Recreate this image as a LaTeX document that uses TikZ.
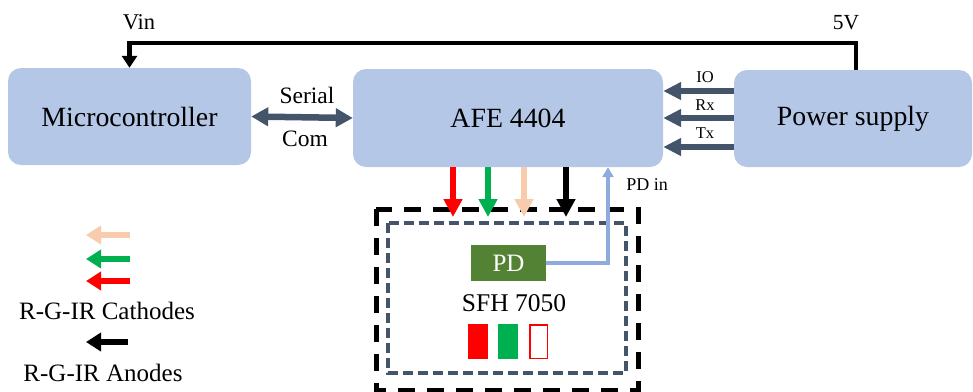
\documentclass[tikz,border=0pt]{standalone}
\usepackage{fontspec}
\setmainfont{Liberation Serif}
\usetikzlibrary{arrows.meta}
\definecolor{boxblue}{HTML}{B4C7E7}
\definecolor{slate}{HTML}{44546A}
\definecolor{peach}{HTML}{F8CBAD}
\definecolor{grn}{HTML}{00B050}
\definecolor{pdgreen}{HTML}{548235}
\definecolor{pdline}{HTML}{8FAADC}
\begin{document}
\begin{tikzpicture}[x=1pt,y=-1pt,
  block/.style={fill=boxblue, rounded corners=13pt, inner sep=0pt, font=\fontsize{27.8}{30}\selectfont},
  lbl/.style={inner sep=0pt, font=\fontsize{23.5}{26}\selectfont},
  small/.style={inner sep=0pt, font=\fontsize{16.5}{18}\selectfont},
  parrow/.style={slate, line width=6pt, -{Triangle[length=18pt,width=17pt]}},
  darrow/.style={line width=6.5pt, -{Triangle[length=18pt,width=18pt]}},
  legarrow/.style={line width=6.5pt, -{Triangle[length=15pt,width=18pt]}},
]
\useasboundingbox (0,0) rectangle (973,391);

% blocks
\node[block, minimum width=243pt, minimum height=97pt] (mc) at (129.5,116.5) {Microcontroller};
\node[block, minimum width=310pt, minimum height=98pt] (afe) at (508,118) {AFE 4404};
\node[block, minimum width=238pt, minimum height=97pt] (ps) at (853,118.5) {Power supply};

% supply line
\coordinate (vtop) at (856,43);
\draw[line width=4.5pt, -{Triangle[length=12pt,width=15pt]}]
  (ps.north -| vtop) -- (vtop) -- (vtop -| mc.north) -- (mc.north);
\node[lbl, font=\fontsize{22.5}{24}\selectfont] (vin) at (139,22) {Vin};
\node[lbl, font=\fontsize{21.5}{24}\selectfont] (fivev) at (846,23) {5V};

% serial com
\draw[slate, line width=6.5pt, {Triangle[length=17pt,width=18pt]}-{Triangle[length=17pt,width=18pt]}]
  (mc.east) -- (afe.west);
\node[lbl] (serial) at (307,95) {Serial};
\node[lbl] (com) at (305,139) {Com};

% power arrows
\coordinate (ioy) at (700,91);
\coordinate (rxy) at (700,118);
\coordinate (txy) at (700,147);
\draw[parrow] (ps.west |- ioy) -- (afe.east |- ioy);
\draw[parrow] (ps.west |- rxy) -- (afe.east |- rxy);
\draw[parrow] (ps.west |- txy) -- (afe.east |- txy);
\node[small] (io) at (705,77) {IO};
\node[small] (rx) at (705,105) {Rx};
\node[small] (tx) at (705,133) {Tx};

% sensor package
\draw[black, line width=5pt, dash pattern=on 17pt off 12pt] (376,209) rectangle (638,390);
\draw[slate, line width=3.5pt, dash pattern=on 10pt off 5pt] (388,223) rectangle (626,373);

% LED arrows
\coordinate (rt) at (453,217);
\coordinate (gt) at (488,217);
\coordinate (pt) at (524,217);
\coordinate (kt) at (566,217);
\draw[darrow, red] (afe.south -| rt) -- (rt);
\draw[darrow, grn] (afe.south -| gt) -- (gt);
\draw[darrow, peach] (afe.south -| pt) -- (pt);
\draw[darrow, black] (afe.south -| kt) -- (kt);

% PD
\node[fill=pdgreen, text=white, minimum width=75pt, minimum height=36pt, inner sep=0pt,
  font=\fontsize{25}{28}\selectfont] (pd) at (508.5,263) {PD};
\coordinate (pdx) at (608,0);
\draw[pdline, line width=3.5pt, -{Triangle[length=10pt,width=11pt]}] (pd.east) -| (afe.south -| pdx);
\node[small, font=\fontsize{18}{20}\selectfont] (pdin) at (647,185) {PD in};
\node[lbl, font=\fontsize{25.5}{28}\selectfont] (sfh) at (514,303) {SFH 7050};

% LEDs
\fill[red] (468,324) rectangle (488,359);
\fill[grn] (498,324) rectangle (518,359);
\draw[red, line width=1.5pt, fill=white] (529.75,324.75) rectangle (547.25,358.25);

% legend
\coordinate (l1a) at (130,235); \coordinate (l1b) at (86,235);
\coordinate (l2a) at (130,259); \coordinate (l2b) at (86,259);
\coordinate (l3a) at (130,281); \coordinate (l3b) at (86,281);
\coordinate (l4a) at (128,342); \coordinate (l4b) at (86,342);
\draw[legarrow, peach] (l1a) -- (l1b);
\draw[legarrow, grn] (l2a) -- (l2b);
\draw[legarrow, red] (l3a) -- (l3b);
\draw[legarrow, black] (l4a) -- (l4b);
\node[lbl, font=\fontsize{25}{26}\selectfont] (cath) at (107,311) {R-G-IR Cathodes};
\node[lbl, font=\fontsize{25}{26}\selectfont] (anod) at (103,373) {R-G-IR Anodes};
\end{tikzpicture}
\end{document}
